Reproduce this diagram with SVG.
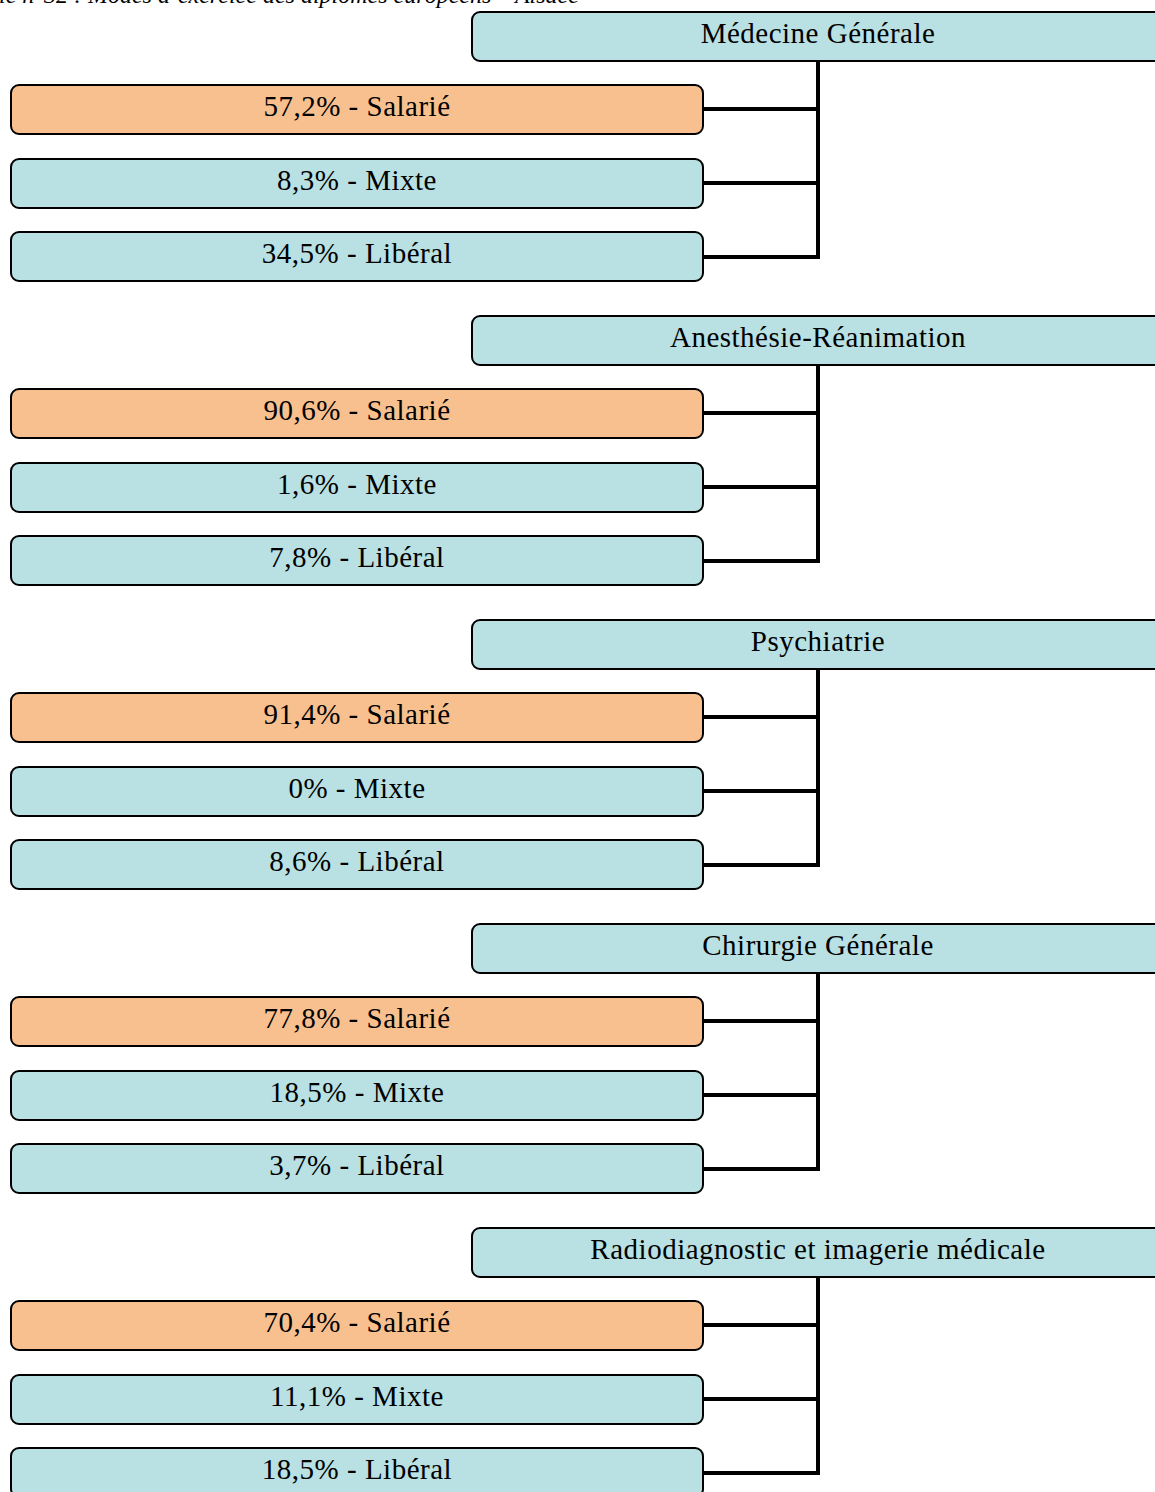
<svg xmlns="http://www.w3.org/2000/svg" width="1155" height="1492" viewBox="0 0 1155 1492">
<style>
.box{stroke:#000;stroke-width:2}
.hd{fill:#b9e0e3}
.bl{fill:#b9e0e3}
.or{fill:#f8c08f}
.t{font-family:"Liberation Serif",serif;font-size:29px;letter-spacing:0.5px;fill:#000;text-anchor:middle}
.cap{font-family:"Liberation Serif",serif;font-size:24px;font-style:italic;fill:#000}
.c{fill:none;stroke:#000;stroke-width:4}
</style>
<rect width="1155" height="1492" fill="#fff"/>
<text class="cap" x="-1" y="3">le n°32 : Modes d’exercice des diplômés européens – Alsace</text>
<g id="connectors">
<path class="c" d="M818 61V259M703 109H818M703 183H818M703 257H820"/>
<path class="c" d="M818 365V563M703 413H818M703 487H818M703 561H820"/>
<path class="c" d="M818 669V867M703 717H818M703 791H818M703 865H820"/>
<path class="c" d="M818 973V1171M703 1021H818M703 1095H818M703 1169H820"/>
<path class="c" d="M818 1277V1475M703 1325H818M703 1399H818M703 1473H820"/>
</g>
<g id="mg">
<rect class="box hd" x="472" y="12" width="700" height="49" rx="8"/>
<text class="t" x="818" y="43">Médecine Générale</text>
</g>
<g id="mg-salarie"><rect class="box or" x="11" y="85" width="692" height="49" rx="8"/><text class="t" x="357" y="116">57,2% - Salarié</text></g>
<g id="mg-mixte"><rect class="box bl" x="11" y="159" width="692" height="49" rx="8"/><text class="t" x="357" y="190">8,3% - Mixte</text></g>
<g id="mg-liberal"><rect class="box bl" x="11" y="232" width="692" height="49" rx="8"/><text class="t" x="357" y="263">34,5% - Libéral</text></g>

<g id="ar">
<rect class="box hd" x="472" y="316" width="700" height="49" rx="8"/>
<text class="t" x="818" y="347">Anesthésie-Réanimation</text>
</g>
<g id="ar-salarie"><rect class="box or" x="11" y="389" width="692" height="49" rx="8"/><text class="t" x="357" y="420">90,6% - Salarié</text></g>
<g id="ar-mixte"><rect class="box bl" x="11" y="463" width="692" height="49" rx="8"/><text class="t" x="357" y="494">1,6% - Mixte</text></g>
<g id="ar-liberal"><rect class="box bl" x="11" y="536" width="692" height="49" rx="8"/><text class="t" x="357" y="567">7,8% - Libéral</text></g>

<g id="ps">
<rect class="box hd" x="472" y="620" width="700" height="49" rx="8"/>
<text class="t" x="818" y="651">Psychiatrie</text>
</g>
<g id="ps-salarie"><rect class="box or" x="11" y="693" width="692" height="49" rx="8"/><text class="t" x="357" y="724">91,4% - Salarié</text></g>
<g id="ps-mixte"><rect class="box bl" x="11" y="767" width="692" height="49" rx="8"/><text class="t" x="357" y="798">0% - Mixte</text></g>
<g id="ps-liberal"><rect class="box bl" x="11" y="840" width="692" height="49" rx="8"/><text class="t" x="357" y="871">8,6% - Libéral</text></g>

<g id="cg">
<rect class="box hd" x="472" y="924" width="700" height="49" rx="8"/>
<text class="t" x="818" y="955">Chirurgie Générale</text>
</g>
<g id="cg-salarie"><rect class="box or" x="11" y="997" width="692" height="49" rx="8"/><text class="t" x="357" y="1028">77,8% - Salarié</text></g>
<g id="cg-mixte"><rect class="box bl" x="11" y="1071" width="692" height="49" rx="8"/><text class="t" x="357" y="1102">18,5% - Mixte</text></g>
<g id="cg-liberal"><rect class="box bl" x="11" y="1144" width="692" height="49" rx="8"/><text class="t" x="357" y="1175">3,7% - Libéral</text></g>

<g id="rd">
<rect class="box hd" x="472" y="1228" width="700" height="49" rx="8"/>
<text class="t" x="818" y="1259">Radiodiagnostic et imagerie médicale</text>
</g>
<g id="rd-salarie"><rect class="box or" x="11" y="1301" width="692" height="49" rx="8"/><text class="t" x="357" y="1332">70,4% - Salarié</text></g>
<g id="rd-mixte"><rect class="box bl" x="11" y="1375" width="692" height="49" rx="8"/><text class="t" x="357" y="1406">11,1% - Mixte</text></g>
<g id="rd-liberal"><rect class="box bl" x="11" y="1448" width="692" height="49" rx="8"/><text class="t" x="357" y="1479">18,5% - Libéral</text></g>
</svg>
